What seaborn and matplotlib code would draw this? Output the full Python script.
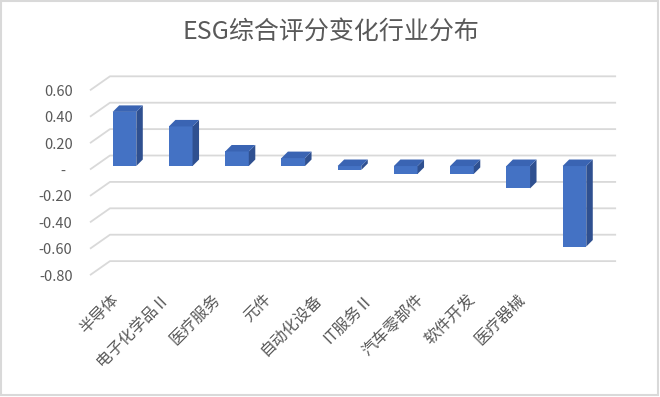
import matplotlib
matplotlib.use('Agg')
import matplotlib.pyplot as plt
import seaborn as sns
import pandas as pd
from matplotlib.patches import Polygon, Rectangle

# 数据
industries = ['半导体', '电子化学品Ⅱ', '医疗服务', '元件', '自动化设备',
              'IT服务Ⅱ', '汽车零部件', '软件开发', '医疗器械']
score_change = [0.41, 0.30, 0.11, 0.06, -0.03, -0.06, -0.06, -0.17, -0.61]
y_ticks = [0.6, 0.4, 0.2, 0.0, -0.2, -0.4, -0.6, -0.8]
y_ticklabels = ['0.60', '0.40', '0.20', '-  ', '-0.20', '-0.40', '-0.60', '-0.80']

sns.set_theme(style='white')
plt.rcParams['font.family'] = ['Noto Sans CJK SC', 'DejaVu Sans']

FRONT = '#4472C4'
SIDE = '#2F5090'
TOP = '#3A64B3'
GRID = '#D9D9D9'
TEXT = '#595959'

fig = plt.figure(figsize=(6.6, 3.97), dpi=100)
ax = fig.add_axes([0.1247, 0.2992, 0.8224, 0.5320])

df = pd.DataFrame({'industry': industries, 'change': score_change})
sns.barplot(data=df, x='industry', y='change', color=FRONT, saturation=1,
            width=0.42, ax=ax, zorder=3, linewidth=0)

ax.set_xlim(-0.75, 8.9)
ax.set_ylim(-0.85, 0.75)

# 伪 3D: 像素 -> 数据单位
px_x = 1 / 56.25
px_y = 1 / 132
dx, dy = 6.5 * px_x, 6.5 * px_y

for p in list(ax.patches):
    x0 = p.get_x()
    x1 = x0 + p.get_width()
    y0 = p.get_y()
    y1 = y0 + p.get_height()
    lo, hi = min(y0, y1), max(y0, y1)
    ax.add_patch(Polygon([(x1, lo), (x1 + dx, lo + dy), (x1 + dx, hi + dy), (x1, hi)],
                         closed=True, facecolor=SIDE, edgecolor='none', zorder=3))
    ax.add_patch(Polygon([(x0, hi), (x0 + dx, hi + dy), (x1 + dx, hi + dy), (x1, hi)],
                         closed=True, facecolor=TOP, edgecolor='none', zorder=3))

# 背墙网格线 + 斜线
back = 10.5 * px_y
for g in y_ticks:
    ax.plot([-0.613, -0.258, 8.74], [g - 3.5 * px_y, g + back, g + back],
            color=GRID, lw=1.3, zorder=1, solid_capstyle='butt')

ax.set_yticks([g - 3.5 * px_y for g in y_ticks])
ax.set_yticklabels(y_ticklabels, fontsize=10.5, color=TEXT)
ax.tick_params(axis='y', length=0, pad=7)
ax.set_xticks([])
ax.set_xlabel('')
ax.set_ylabel('')
for s in ax.spines.values():
    s.set_visible(False)

# 类别标签
for i, name in enumerate(industries):
    ax.text(-0.15 + i * 0.905, -0.99, name, rotation=45, ha='right', va='center',
            rotation_mode='anchor', fontsize=11.5, color=TEXT, clip_on=False)

fig.text(0.502, 1 - 32 / 397, 'ESG综合评分变化行业分布', ha='center', va='center',
         fontsize=18, color=TEXT)

fig.patches.append(Rectangle((0.002, 0.004), 0.995, 0.993, transform=fig.transFigure,
                             fill=False, edgecolor=GRID, lw=1.5))

fig.savefig('out.png', dpi=100, facecolor='white')
